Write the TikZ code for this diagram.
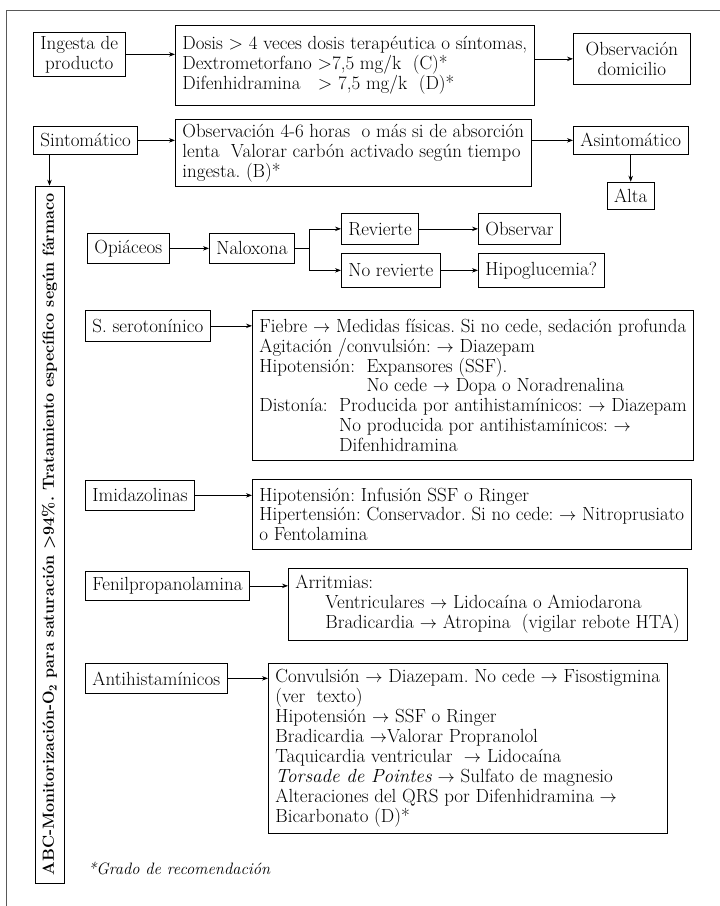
\documentclass[tikz,border=0pt]{standalone}
\usetikzlibrary{arrows.meta,positioning}
\newcommand\txt{\fontsize{19}{19.9}\selectfont\frenchspacing}
\tikzset{
  box/.style={draw, line width=0.7pt, inner xsep=7pt, inner ysep=3pt, font=\txt},
  wide/.style={box, align=left, anchor=north west},
  small/.style={box, anchor=north west, align=center},
  arr/.style={-{Stealth[length=6pt,width=4.5pt]}, line width=0.7pt},
}
\begin{document}
\begin{tikzpicture}[x=1pt, y=-1pt]
\useasboundingbox (0,0) rectangle (720,906);
\draw[line width=1pt, gray!70!black] (720,10) -- (6,10) -- (6,906);

\node[small, minimum height=44pt] (ingesta) at (33,32) {Ingesta de\\producto};
\node[wide, minimum height=80pt] (dosis) at (175,25) {Dosis > 4 veces dosis terapéutica o síntomas,\\Dextrometorfano >7,5 mg/k\ \ (C)*\\Difenhidramina\ \ \ > 7,5 mg/k\ \ (D)*};
\node[small, minimum width=117pt, minimum height=51pt] (obsdom) at (573,33) {Observación\\domicilio};

\node[small, minimum height=28pt] (sint) at (33,126) {Sintomático};
\node[wide, minimum height=67pt] (obs) at (175,119) {Observación 4-6 horas\ \ o más si de absorción\\lenta\ \ Valorar carbón activado según tiempo\\ingesta. (B)*};
\node[small, minimum height=28pt] (asint) at (573,126) {Asintomático};
\node[box, minimum height=27pt, below=27pt of asint] (alta) {Alta};

\node[draw, line width=0.7pt, rotate=90, minimum width=697pt, minimum height=29pt, inner sep=1pt, font=\bfseries\fontsize{16.1}{19}\selectfont\frenchspacing] (abc) at (49.5,534.5) {ABC-Monitorización-O\textsubscript{2} para saturación >94\%. Tratamiento específico según fármaco};

\node[small, minimum height=30pt] (opi) at (87,233) {Opiáceos};
\node[small, minimum height=30pt] (nalox) at (209,233) {Naloxona};
\node[small, minimum height=31pt] (revi) at (341,213) {Revierte};
\node[small, minimum height=34pt] (norev) at (341,253) {No revierte};
\node[small, minimum height=31pt] (obsv) at (478,213) {Observar};
\node[small, minimum height=34pt] (hipo) at (478,253) {Hipoglucemia?};

\node[small, minimum height=31pt] (sero) at (85,310) {S. serotonínico};
\node[wide, minimum height=150pt] (serobox) at (252,310) {Fiebre $\rightarrow$ Medidas físicas. Si no cede, sedación profunda\\
Agitación /convulsión: $\rightarrow$ Diazepam\\
Hipotensión:\ \ Expansores (SSF).\\
\hphantom{Hipotensión:\ \ }No cede $\rightarrow$ Dopa o Noradrenalina\\
Distonía:\ \ Producida por antihistamínicos: $\rightarrow$ Diazepam\\
\hphantom{Distonía:\ \ }No producida por antihistamínicos: $\rightarrow$\\
\hphantom{Distonía:\ \ }Difenhidramina};

\node[small, minimum height=30pt] (imid) at (85,480) {Imidazolinas};
\node[wide, minimum height=70pt] (imidbox) at (252,479) {Hipotensión: Infusión SSF o Ringer\\
Hipertensión: Conservador. Si no cede: $\rightarrow$ Nitroprusiato\\
o Fentolamina};

\node[small, minimum height=29pt] (fenil) at (85,571) {Fenilpropanolamina};
\node[wide, minimum height=72pt] (fenbox) at (288,568) {Arritmias:\\
\hspace*{30pt}Ventriculares $\rightarrow$ Lidocaína o Amiodarona\\
\hspace*{30pt}Bradicardia $\rightarrow$ Atropina\ \ (vigilar rebote HTA)};

\node[small, minimum height=30pt] (anti) at (85,663) {Antihistamínicos};
\node[wide, minimum height=170pt] (antibox) at (268,663) {Convulsión $\rightarrow$ Diazepam. No cede $\rightarrow$ Fisostigmina\\
(ver\ \ texto)\\
Hipotensión $\rightarrow$ SSF o Ringer\\
Bradicardia $\rightarrow$Valorar Propranolol\\
Taquicardia ventricular\ \ $\rightarrow$ Lidocaína\\
\textit{Torsade de Pointes} $\rightarrow$ Sulfato de magnesio\\
Alteraciones del QRS por Difenhidramina $\rightarrow$\\
Bicarbonato (D)*};

\node[anchor=west, inner sep=0pt, font=\itshape\fontsize{16.5}{19}\selectfont] (nota) at (88,868) {*Grado de recomendación};

\draw[arr] (ingesta.east) -- (ingesta.east -| dosis.west);
\draw[arr] (dosis.east |- obsdom.west) -- (obsdom.west);
\draw[arr] (sint.east) -- (sint.east -| obs.west);
\draw[arr] (obs.east |- asint.west) -- (asint.west);
\draw[arr] (asint) -- (alta);
\draw[arr] (sint.south -| abc.center) -- (abc.east);
\draw[arr] (opi) -- (nalox);
\draw (nalox.east) -- ++(14,0) coordinate (split);
\draw[arr] (split) |- (revi.west);
\draw[arr] (split) |- (norev.west);
\draw[arr] (revi) -- (obsv);
\draw[arr] (norev) -- (hipo);
\draw[arr] (sero.east) -- (sero.east -| serobox.west);
\draw[arr] (imid.east) -- (imid.east -| imidbox.west);
\draw[arr] (fenil.east) -- (fenil.east -| fenbox.west);
\draw[arr] (anti.east) -- (anti.east -| antibox.west);
\end{tikzpicture}
\end{document}
